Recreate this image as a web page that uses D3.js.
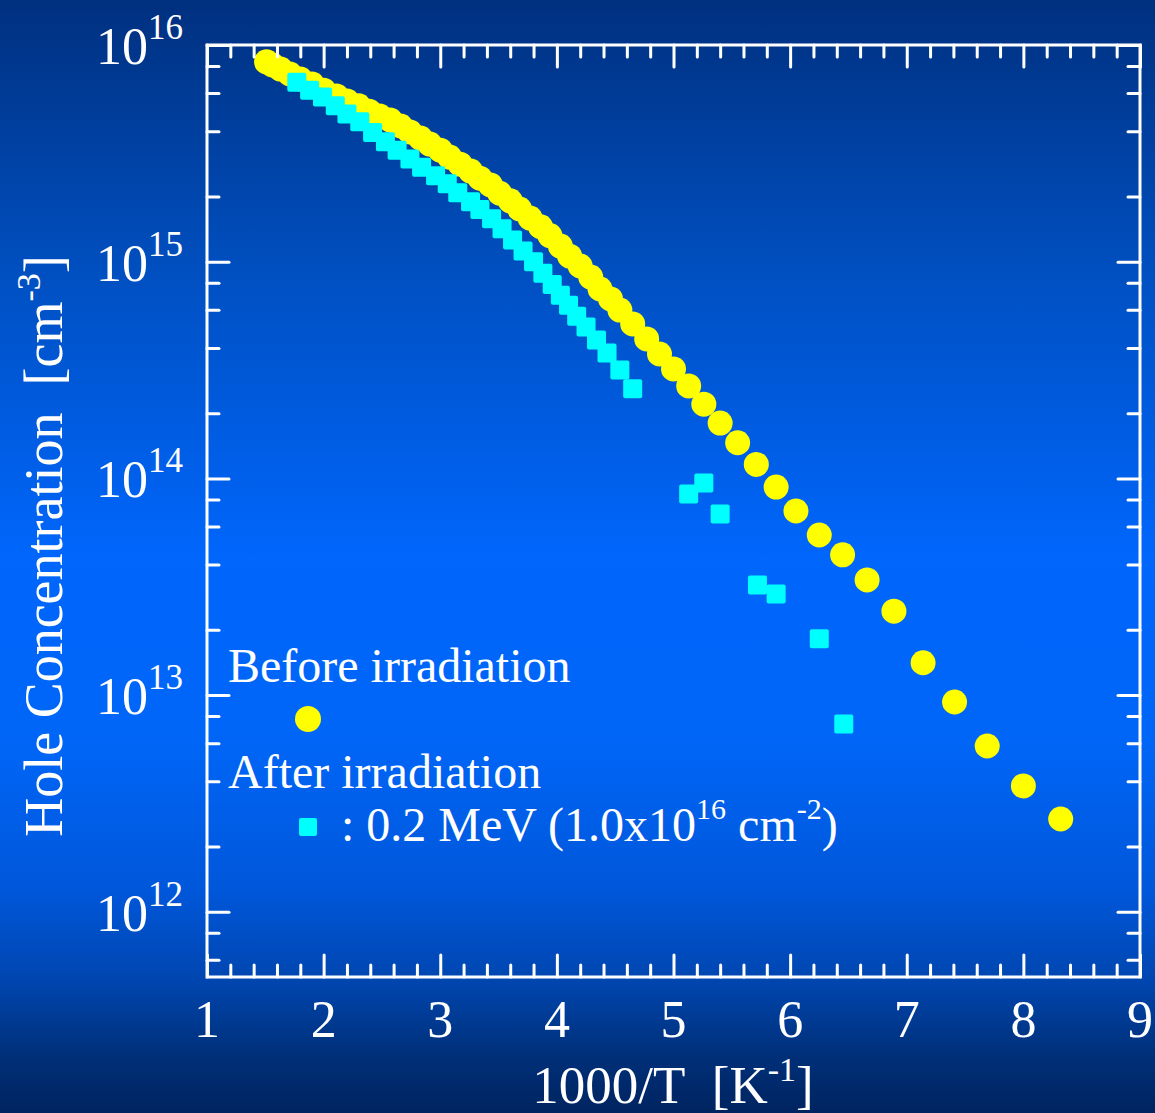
<!DOCTYPE html>
<html>
<head>
<meta charset="utf-8">
<script src="https://cdn.jsdelivr.net/npm/d3@7"></script>
<style>
body { margin: 0; background: #0050c0; }
svg { display: block; }
text { font-family: "Liberation Serif", "Times New Roman", serif; fill: #fff; }
</style>
</head>
<body>
<script>
// before irradiation (yellow circles): 1000/T and hole concentration
let beforeX = [1.51, 1.56, 1.63, 1.71, 1.80, 1.90, 2.00, 2.11, 2.20, 2.30, 2.39, 2.48, 2.57, 2.66, 2.74,
    2.83, 2.91, 3.00, 3.08, 3.17, 3.26, 3.34, 3.43, 3.51, 3.60, 3.68, 3.77, 3.86, 3.94, 4.03,
    4.11, 4.20, 4.29, 4.37, 4.46, 4.54, 4.65, 4.77, 4.88, 5.00, 5.13, 5.26, 5.40, 5.55, 5.71,
    5.88, 6.05, 6.25, 6.45, 6.66, 6.89, 7.14, 7.41, 7.69, 8.00, 8.32];
let beforeP = [8.36e15, 8.09e15, 7.74e15, 7.35e15, 6.97e15, 6.61e15, 6.19e15, 5.82e15, 5.52e15, 5.24e15,
    4.95e15, 4.70e15, 4.51e15, 4.23e15, 3.97e15, 3.72e15, 3.49e15, 3.27e15, 3.04e15, 2.82e15,
    2.62e15, 2.43e15, 2.26e15, 2.07e15, 1.91e15, 1.75e15, 1.59e15, 1.45e15, 1.32e15, 1.18e15,
    1.06e15, 9.55e14, 8.49e14, 7.48e14, 6.73e14, 5.98e14, 5.16e14, 4.40e14, 3.75e14, 3.20e14,
    2.67e14, 2.20e14, 1.80e14, 1.46e14, 1.16e14, 9.12e13, 7.08e13, 5.48e13, 4.44e13, 3.40e13,
    2.44e13, 1.41e13, 9.29e12, 5.82e12, 3.81e12, 2.68e12];

// after 0.2 MeV irradiation (cyan squares)
let afterX = [1.77, 1.88, 1.99, 2.10, 2.20, 2.31, 2.42, 2.53, 2.63, 2.74, 2.84, 2.96, 3.06, 3.15, 3.26,
    3.34, 3.44, 3.53, 3.62, 3.71, 3.80, 3.88, 3.96, 4.03, 4.10, 4.17, 4.25, 4.34, 4.43, 4.54,
    4.65, 5.13, 5.26, 5.40, 5.72, 5.88, 6.25, 6.46];
let afterP = [6.74e15, 6.19e15, 5.75e15, 5.24e15, 4.81e15, 4.42e15, 3.95e15, 3.58e15, 3.27e15, 2.98e15,
    2.73e15, 2.49e15, 2.29e15, 2.08e15, 1.89e15, 1.74e15, 1.58e15, 1.42e15, 1.26e15, 1.12e15,
    1.00e15, 8.85e14, 7.85e14, 7.00e14, 6.30e14, 5.60e14, 5.00e14, 4.35e14, 3.79e14, 3.16e14,
    2.59e14, 8.47e13, 9.53e13, 6.85e13, 3.22e13, 2.93e13, 1.82e13, 7.36e12];

let xTicks = [1, 2, 3, 4, 5, 6, 7, 8, 9];
let yTicks = [1e12, 1e13, 1e14, 1e15, 1e16];

let width = 1155;
let height = 1113;

let svg = d3.select("body")
    .append("svg")
    .attr("width", width)
    .attr("height", height);

// background gradient
let grad = svg.append("defs").append("linearGradient")
    .attr("id", "bg")
    .attr("gradientUnits", "userSpaceOnUse")
    .attr("x1", 0).attr("y1", 0).attr("x2", 0).attr("y2", height);
[[0, "#00307f"], [0.25, "#0050c2"], [0.5, "#0066fc"], [0.66, "#0066f8"],
 [0.8, "#0057da"], [0.88, "#0046b0"], [0.95, "#002f78"], [1, "#002460"]]
    .forEach(s => grad.append("stop").attr("offset", s[0]).attr("stop-color", s[1]));
svg.append("rect").attr("width", width).attr("height", height).attr("fill", "url(#bg)");

let scaleX = d3.scaleLinear().domain([1, 9]).range([207, 1140]);
let scaleY = d3.scaleLog().domain([5e11, 1e16]).range([977, 45]);

// minor ticks
let xMinor = d3.range(1, 9.001, 0.2).filter(v => Math.abs(v - Math.round(v)) > 0.01);
let yMinor = [];
for (let e = 11; e <= 15; e++) {
    [2, 4, 6, 8].forEach(m => {
        let v = m * Math.pow(10, e);
        if (v >= 5e11 && v <= 1e16) yMinor.push(v);
    });
}

// data
let before = d3.zip(beforeX, beforeP);
let after = d3.zip(afterX, afterP);

svg.append("g").selectAll("circle")
    .data(before)
    .join("circle")
    .attr("cx", d => scaleX(d[0]))
    .attr("cy", d => scaleY(d[1]))
    .attr("r", 12.5)
    .attr("fill", "#ffff00");

let sq = 19;
svg.append("g").selectAll("rect")
    .data(after)
    .join("rect")
    .attr("x", d => scaleX(d[0]) - sq / 2)
    .attr("y", d => scaleY(d[1]) - sq / 2)
    .attr("width", sq)
    .attr("height", sq)
    .attr("rx", 2)
    .attr("fill", "#00ffff");

// axes with inward ticks on all four sides
function drawAxis(axis, tx, ty) {
    svg.append("g")
        .attr("transform", `translate(${tx}, ${ty})`)
        .attr("color", "#fff")
        .call(axis)
        .call(g => g.select(".domain").remove())
        .call(g => g.selectAll("line").attr("stroke-width", 3).attr("stroke-linecap", "round"));
}
[[xTicks, 22], [xMinor, 12]].forEach(([vals, len]) => {
    drawAxis(d3.axisBottom(scaleX).tickValues(vals).tickSize(-len).tickFormat(""), 0, 977);
    drawAxis(d3.axisTop(scaleX).tickValues(vals).tickSize(-len).tickFormat(""), 0, 45);
});
[[yTicks, 22], [yMinor, 12]].forEach(([vals, len]) => {
    drawAxis(d3.axisLeft(scaleY).tickValues(vals).tickSize(-len).tickFormat(""), 207, 0);
    drawAxis(d3.axisRight(scaleY).tickValues(vals).tickSize(-len).tickFormat(""), 1140, 0);
});

svg.append("rect")
    .attr("x", 207).attr("y", 45)
    .attr("width", 933).attr("height", 932)
    .attr("fill", "none")
    .attr("stroke", "#fff")
    .attr("stroke-width", 3);

// tick labels
svg.append("g").selectAll("text")
    .data(xTicks)
    .join("text")
    .attr("x", d => scaleX(d))
    .attr("y", 1037)
    .attr("text-anchor", "middle")
    .style("font-size", "52px")
    .text(d => d);

let yLab = svg.append("g").selectAll("text")
    .data(yTicks)
    .join("text")
    .attr("x", 183)
    .attr("y", d => scaleY(d) + 19)
    .attr("text-anchor", "end")
    .style("font-size", "52px");
yLab.append("tspan").text("10");
yLab.append("tspan")
    .attr("dy", -25)
    .style("font-size", "35px")
    .text(d => Math.round(Math.log10(d)));

// axis titles
let xt = svg.append("text")
    .attr("x", 673)
    .attr("y", 1103)
    .attr("text-anchor", "middle")
    .style("font-size", "53px");
xt.append("tspan").text("1000/T\u00a0\u00a0[K");
xt.append("tspan").attr("dy", -22).style("font-size", "34px").text("-1");
xt.append("tspan").attr("dy", 22).text("]");

let yt = svg.append("text")
    .attr("transform", "translate(62, 546) rotate(-90)")
    .attr("text-anchor", "middle")
    .style("font-size", "54px");
yt.append("tspan").text("Hole Concentration\u00a0\u00a0[cm");
yt.append("tspan").attr("dy", -22).style("font-size", "34px").text("-3");
yt.append("tspan").attr("dy", 22).text("]");

// legend
svg.append("text")
    .attr("x", 228).attr("y", 682)
    .style("font-size", "48px")
    .text("Before irradiation");
svg.append("circle")
    .attr("cx", 308).attr("cy", 719).attr("r", 13)
    .attr("fill", "#ffff00");
svg.append("text")
    .attr("x", 228).attr("y", 788)
    .style("font-size", "48px")
    .text("After irradiation");
svg.append("rect")
    .attr("x", 299).attr("y", 818).attr("width", 18).attr("height", 18).attr("rx", 2)
    .attr("fill", "#00ffff");
let lt = svg.append("text")
    .attr("x", 341).attr("y", 841)
    .style("font-size", "48px");
lt.append("tspan").text(": 0.2 MeV (1.0x10");
lt.append("tspan").attr("dy", -22).style("font-size", "30px").text("16");
lt.append("tspan").attr("dy", 22).text("\u00a0cm");
lt.append("tspan").attr("dy", -22).style("font-size", "30px").text("-2");
lt.append("tspan").attr("dy", 22).text(")");
</script>
</body>
</html>
